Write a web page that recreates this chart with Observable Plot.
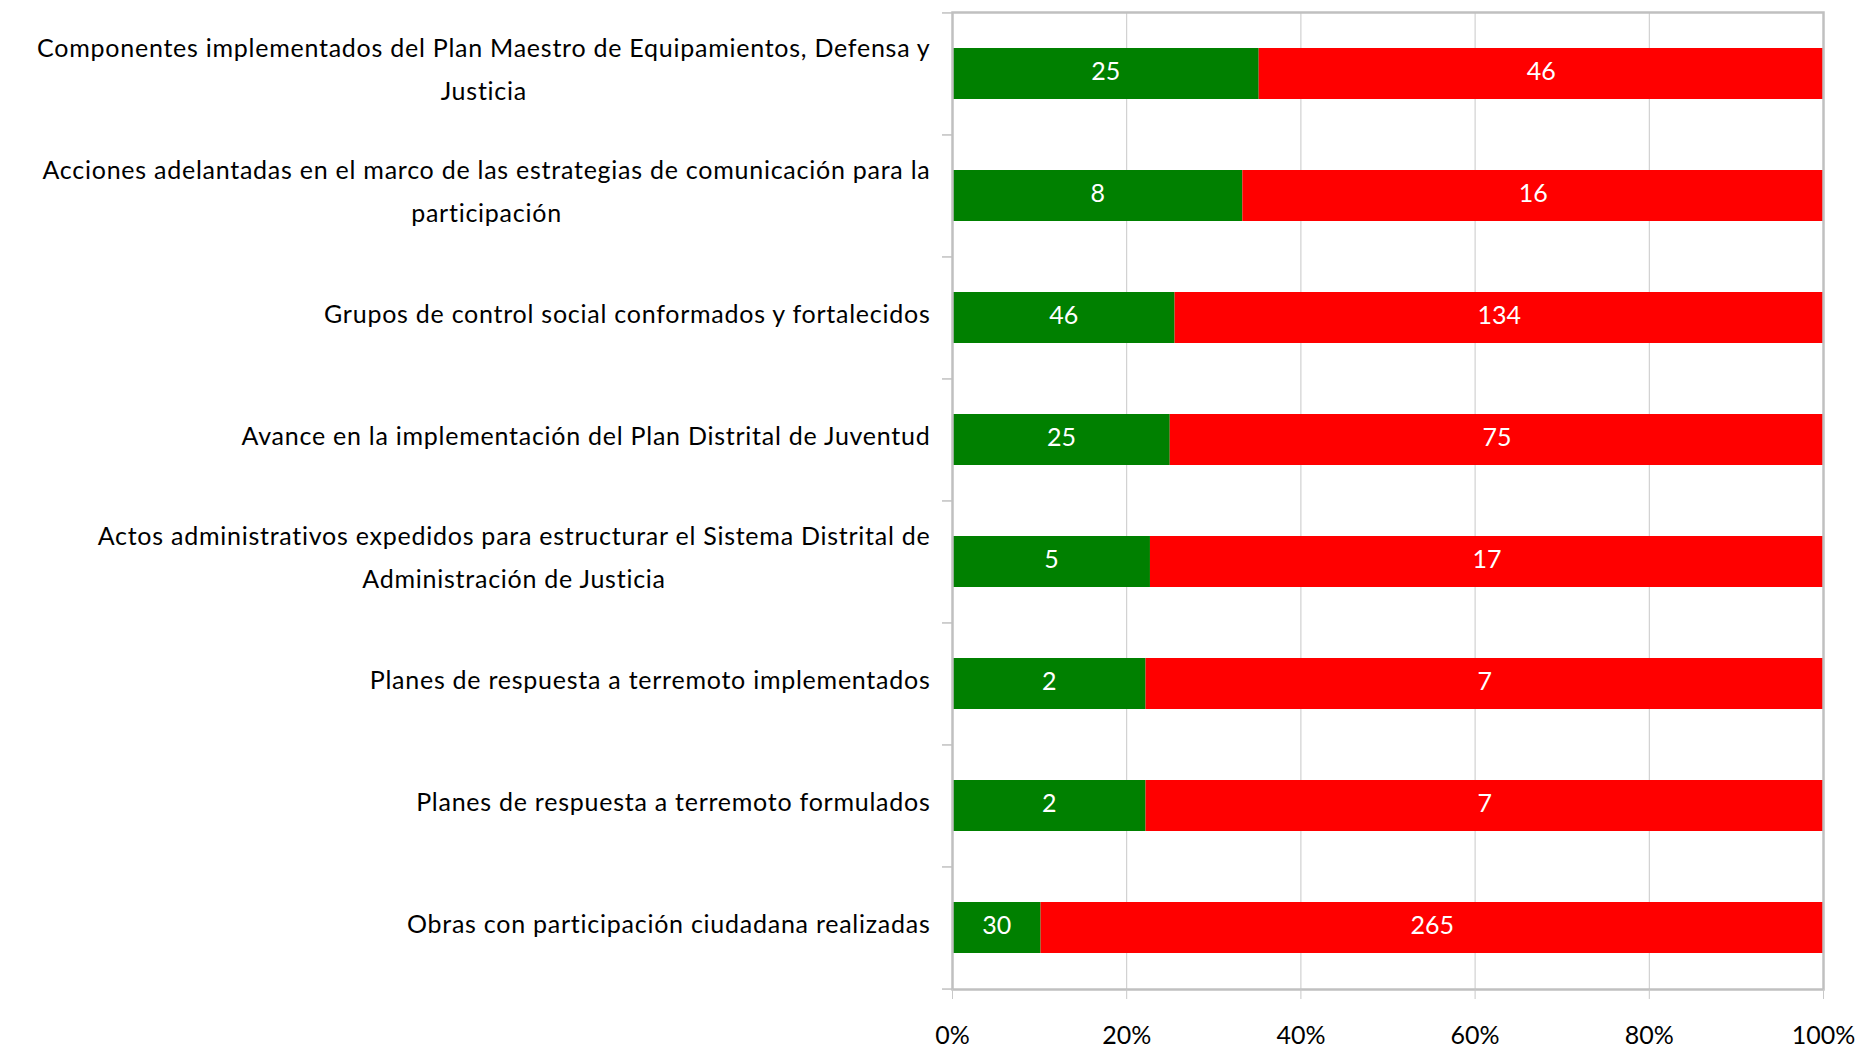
<!DOCTYPE html>
<html><head><meta charset="utf-8">
<script src="https://cdn.jsdelivr.net/npm/d3@7"></script>
<script src="https://cdn.jsdelivr.net/npm/@observablehq/plot@0.6"></script>
<style>
body{margin:0;background:#fff}
#chart svg{display:block}
</style>
</head><body><div id="chart"></div>
<script>
const categories = [
  "Componentes implementados del Plan Maestro de Equipamientos, Defensa y\nJusticia",
  "Acciones adelantadas en el marco de las estrategias de comunicación para la\nparticipación",
  "Grupos de control social conformados y fortalecidos",
  "Avance en la implementación del Plan Distrital de Juventud",
  "Actos administrativos expedidos para estructurar el Sistema Distrital de\nAdministración de Justicia",
  "Planes de respuesta a terremoto implementados",
  "Planes de respuesta a terremoto formulados",
  "Obras con participación ciudadana realizadas"
];
const logrado = [25, 8, 46, 25, 5, 2, 2, 30];
const pendiente = [46, 16, 134, 75, 17, 7, 7, 265];
const series = ["Logrado", "Pendiente"];
const colors = ["#008000", "#ff0000"];
const xTicks = [0, 0.2, 0.4, 0.6, 0.8, 1];

const rows = categories.flatMap((c, i) => [
  {categoria: c, serie: series[0], valor: logrado[i]},
  {categoria: c, serie: series[1], valor: pendiente[i]}
]);

const W = 1858, H = 1052;
const mTop = 12, mBottom = 63, mLeft = 952, mRight = 35;
const step = (H - mTop - mBottom) / categories.length;
const tickLen = 10 / (W - mLeft - mRight);

const chart = Plot.plot({
  width: W, height: H,
  marginTop: mTop, marginBottom: mBottom, marginLeft: mLeft, marginRight: mRight,
  style: {fontFamily: "Lato, 'Open Sans', sans-serif", fontSize: "25px", color: "black", background: "white"},
  x: {domain: [0, 1]},
  y: {domain: categories, paddingInner: 0.58, paddingOuter: 0.29},
  color: {domain: series, range: colors},
  marks: [
    Plot.ruleX(xTicks, {stroke: "#c8c8c8", strokeWidth: 1}),
    Plot.barX(rows, Plot.stackX({x: "valor", y: "categoria", fill: "serie", offset: "normalize", order: series})),
    Plot.text(rows, Plot.stackX({x: "valor", y: "categoria", z: "serie", text: "valor", offset: "normalize", order: series, fill: "white", fontSize: 25, dy: -2})),
    Plot.frame({stroke: "#c0c0c0", strokeWidth: 2.5}),
    Plot.ruleY(categories, {y: d => d, x1: -tickLen, x2: 0, dy: -step / 2, stroke: "#c0c0c0", strokeWidth: 1.5}),
    Plot.ruleY([categories[categories.length - 1]], {y: d => d, x1: -tickLen, x2: 0, dy: step / 2, stroke: "#c0c0c0", strokeWidth: 1.5}),
    Plot.axisX({ticks: xTicks, tickFormat: d3.format(".0%"), tickSize: 10, tickPadding: 27, stroke: "#c8c8c8", fill: "black", label: null, fontSize: 25}),
    Plot.axisY({tickSize: 0, tickPadding: 22, label: null, lineHeight: 1.72, fill: "black", fontSize: 25, dy: -9})
  ]
});

document.getElementById("chart").appendChild(chart);

// wider letter spacing and centered multi-line category labels, like the original
const yLabels = chart.querySelector('g[aria-label="y-axis tick label"]');
if (yLabels) yLabels.style.letterSpacing = "0.75px";
chart.querySelectorAll('g[aria-label="y-axis tick label"] text').forEach(t => {
  const spans = t.querySelectorAll("tspan");
  if (spans.length > 1) {
    const b = t.getBBox();
    const cx = b.x + b.width / 2;
    t.setAttribute("text-anchor", "middle");
    spans.forEach(s => s.setAttribute("x", cx));
  }
});
</script>
</body></html>
